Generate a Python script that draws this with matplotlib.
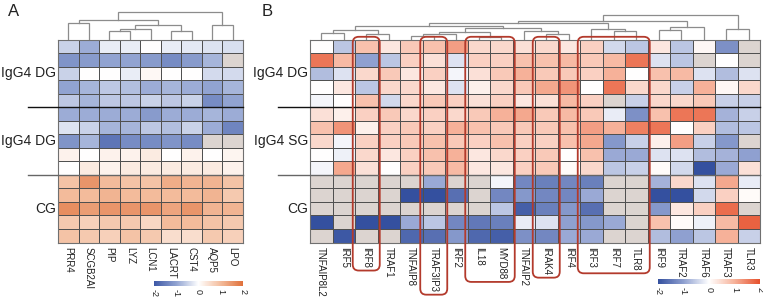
import numpy as np
import matplotlib
matplotlib.use("Agg")
import matplotlib.pyplot as plt
from matplotlib.colors import LinearSegmentedColormap, Normalize
from matplotlib.patches import FancyBboxPatch
from matplotlib.transforms import IdentityTransform
import matplotlib.cm as cm

plt.rcParams['font.family'] = ['Liberation Sans', 'DejaVu Sans']
plt.rcParams['axes.unicode_minus'] = False

NA = np.nan

# ---------------- Panel A data ----------------
genes_a = ["PRR4", "SCGB2AI", "PIP", "LYZ", "LCN1", "LACRT", "CST4", "AQP5", "LPO"]
groups_a = ["IgG4 DG", "IgG4 DG", "CG"]
a_dg1 = [
    [-0.5, -0.9, -0.2, -0.2, 0.0, -0.2, -0.25, -0.3, -0.35],
    [-1.2, -1.1, -1.0, -1.0, -1.1, -1.3, -1.1, -0.8, NA],
    [-0.5, 0.0, 0.0, -0.2, 0.1, 0.0, 0.0, -0.4, -0.4],
    [-1.0, -0.8, -0.6, -0.7, -0.9, -0.8, -0.9, -1.0, -0.8],
    [-0.6, -0.8, -0.6, -0.6, -0.5, -0.6, -0.5, -1.3, -1.0],
]
a_dg2 = [
    [-0.9, -0.9, -0.9, -0.9, -1.1, -0.9, -0.9, -0.8, -0.9],
    [-0.3, -0.5, -0.8, -0.8, -0.6, -0.7, -0.5, -0.9, -1.4],
    [-1.2, -0.8, -1.6, -1.3, -1.3, -1.2, -1.3, NA, NA],
    [0.2, 0.0, 0.2, 0.2, 0.3, 0.0, 0.2, 0.0, 0.15],
    [0.0, 0.3, 0.2, 0.3, 0.3, 0.3, 0.3, 0.3, 0.2],
]
a_cg = [
    [0.9, 1.5, 1.0, 0.9, 0.9, 1.2, 1.1, 1.1, 0.9],
    [1.0, 1.0, 1.1, 1.0, 1.0, 1.0, 1.0, 1.1, 0.8],
    [1.6, 1.4, 1.5, 1.5, 1.5, 1.3, 1.5, 1.1, 1.1],
    [0.8, 0.7, 0.8, 0.8, 0.6, 1.0, 1.0, 0.9, 0.8],
    [0.9, 0.8, 0.7, 0.9, 0.8, 0.5, 0.5, 0.8, 0.7],
]
# linkage: (left, right, height)  ids >= n refer to earlier merges
link_a = [
    (2, 3, 8.3), (9, 4, 10.7), (5, 6, 8.3), (10, 11, 15.0),
    (0, 1, 16.7), (13, 12, 20.0), (7, 8, 15.0), (14, 15, 27.3),
]

# ---------------- Panel B data ----------------
genes_b = ["TNFAIP8L2", "IRF5", "IRF8", "TRAF1", "TNFAIP8", "TRAF3IP3", "IRF2", "IL18",
           "MYD88", "TNFAIP2", "IRAK4", "IRF4", "IRF3", "IRF7", "TLR8", "IRF9", "TRAF2",
           "TRAF6", "TRAF3", "TLR3"]
groups_b = ["IgG4 DG", "IgG4 SG", "CG"]
b_dg = [
    [0.0, -0.6, 0.8, 0.3, 0.7, 0.8, 1.2, 0.5, 0.5, 0.4, 0.5, 0.3, 0.6, -0.4, -0.6, 0.3, -0.6, 0.1, -1.2, NA],
    [1.6, 0.9, -1.0, -0.6, 0.6, 0.4, -0.3, 0.6, 0.6, 0.8, 0.8, 0.9, 0.7, 0.9, 1.6, -0.3, -0.6, NA, 0.0, NA],
    [-0.7, -0.3, 0.5, 0.7, 0.3, 0.6, -0.1, 0.4, 0.7, 1.0, 0.7, 0.7, 0.6, 1.0, 0.0, 0.8, 0.9, -0.3, -0.7, -0.3],
    [0.0, 0.3, -0.6, 0.5, 0.5, 0.3, -0.3, 0.2, 0.5, 0.7, 1.1, 1.3, 0.0, 1.6, 0.5, 0.5, -0.5, 1.0, 0.1, 0.5],
    [-0.1, 0.0, 0.8, -0.4, 0.5, 0.7, 0.6, 0.4, 0.6, 0.3, 0.4, 0.9, 0.6, NA, -0.5, 0.5, 0.5, 0.7, -0.5, -0.5],
]
b_sg = [
    [0.4, 0.2, 0.6, 0.7, 0.5, 0.6, 0.5, 0.7, 1.0, 1.1, 0.7, 0.9, 0.7, -0.2, -1.2, 0.8, 1.6, 1.6, -0.8, -0.5],
    [0.8, 1.3, 0.2, 0.6, 0.7, 0.6, 1.0, 0.8, 0.7, 0.7, 0.7, 0.8, 1.2, 1.0, 1.5, 1.6, 0.0, 0.6, -0.7, -0.6],
    [0.5, -0.1, 0.6, 0.6, 0.7, 0.8, 0.7, 0.6, 0.8, 0.6, 0.6, 0.8, 1.1, -1.1, -0.5, 0.2, 1.2, -0.5, -1.1, NA],
    [0.0, -0.15, 0.5, 0.3, 0.6, 0.8, 1.0, 0.3, 0.5, 0.6, 0.7, 0.0, 0.8, -0.9, -0.9, -0.3, -0.3, -0.7, -0.8, -1.0],
    [-0.1, 1.1, 0.4, 0.0, 0.6, 0.7, 0.9, 0.3, 0.3, 0.6, 0.7, 0.05, 0.5, -0.6, -0.5, 0.05, -0.4, -2.0, -0.9, 0.4],
]
b_cg = [
    [NA, NA, NA, NA, NA, -0.9, NA, NA, -0.1, -1.3, -1.4, -1.3, -1.4, NA, NA, -0.8, 0.5, -0.3, 1.1, -0.2],
    [NA, NA, NA, NA, -2.0, -2.0, -1.6, NA, -1.3, -1.1, -1.3, -1.3, -0.9, NA, NA, -2.0, -2.0, -0.4, 0.6, 0.05],
    [NA, NA, NA, NA, NA, NA, NA, NA, -0.6, -1.8, -1.4, -1.1, -1.6, NA, NA, -1.1, 0.3, 0.6, 1.7, NA],
    [-2.0, NA, -2.0, -2.0, -0.9, -0.6, -1.3, -1.5, -1.4, -0.2, -0.3, -1.0, -1.1, -0.9, NA, 0.8, 0.05, -0.15, 0.9, 1.8],
    [NA, -1.9, NA, NA, -1.7, -1.6, -1.1, -1.7, -1.8, -1.2, -1.3, -0.9, -0.9, NA, NA, -0.7, -1.0, -0.6, 1.0, -0.5],
]
link_b = [
    (0, 1, 6.5), (2, 3, 6.0), (20, 21, 10.0), (4, 5, 3.5), (23, 6, 6.0),
    (7, 8, 3.0), (24, 25, 8.0), (10, 11, 6.0), (9, 27, 9.0), (26, 28, 12.0),
    (22, 29, 14.0), (13, 14, 8.6), (12, 31, 11.0), (30, 32, 16.5),
    (15, 16, 10.0), (34, 17, 13.0), (33, 35, 19.0), (18, 19, 11.0), (36, 37, 24.3),
]
boxes_b = [("IRF8", "IRF8"), ("TRAF3IP3", "TRAF3IP3"), ("IL18", "MYD88"),
           ("IRAK4", "IRAK4"), ("IRF3", "TLR8")]
cbar_ticks = [-2, -1, 0, 1, 2]

# ---------------- styling ----------------
W, H = 763, 298
fig = plt.figure(figsize=(W / 100, H / 100), dpi=100)

def ax_px(l, t, r, b):
    return fig.add_axes([l / W, 1 - b / H, (r - l) / W, (b - t) / H])

cmap_a = LinearSegmentedColormap.from_list(
    "a", ["#3d58a6", "#91a3d1", "#ffffff", "#f3bc9c", "#e0703a"])
cmap_b = LinearSegmentedColormap.from_list(
    "b", ["#34509f", "#8fa0d0", "#ffffff", "#f6b29a", "#e6502c"])
for c in (cmap_a, cmap_b):
    c.set_bad("#dcd4d0")

TXT = "#222222"


def draw_dendro(ax, link, n, color="#8c8c8c"):
    pos = {i: i + 0.5 for i in range(n)}
    hgt = {i: 0.0 for i in range(n)}
    for k, (l, r, h) in enumerate(link):
        xl, xr = pos[l], pos[r]
        ax.plot([xl, xl, xr, xr], [hgt[l], h, h, hgt[r]], color=color, lw=0.9,
                solid_joinstyle="miter")
        pos[n + k] = (xl + xr) / 2
        hgt[n + k] = h
    ax.set_xlim(0, n)
    ax.axis("off")


def draw_heat(ax, data, cmap, genes, groups, div_left):
    arr = np.ma.masked_invalid(np.array(data, dtype=float))
    nr, nc = arr.shape
    ax.pcolormesh(np.arange(nc + 1), np.arange(nr + 1), arr, cmap=cmap,
                  vmin=-2, vmax=2, edgecolors="#505050", linewidth=0.6)
    ax.set_xlim(0, nc)
    ax.set_ylim(nr, 0)
    for s in ax.spines.values():
        s.set_edgecolor("#707070")
        s.set_linewidth(0.8)
    ax.set_yticks([])
    ax.set_xticks(np.arange(nc) + 0.5)
    ax.set_xticklabels(genes, rotation=-90, fontsize=7, color=TXT)
    ax.tick_params(axis="x", length=0, pad=3)
    gsize = nr // len(groups)
    for gi, g in enumerate(groups):
        ax.text(-0.08, gi * gsize + gsize / 2, g, ha="right", va="center",
                fontsize=10, color=TXT)
    ax.plot([div_left, nc], [gsize, gsize], color="#111111", lw=1.0,
            clip_on=False, zorder=5)
    ax.plot([div_left, nc], [2 * gsize, 2 * gsize], color="#666666", lw=1.0,
            clip_on=False, zorder=5)


def draw_cbar(cax, cmap):
    sm = cm.ScalarMappable(norm=Normalize(-2, 2), cmap=cmap)
    cb = fig.colorbar(sm, cax=cax, orientation="horizontal", ticks=cbar_ticks)
    cb.outline.set_visible(False)
    cax.tick_params(axis="x", length=0, pad=2, labelsize=6.5, labelcolor=TXT,
                    labelrotation=-90)


# Panel A
ax_a = ax_px(58, 39.5, 243, 242.5)
data_a = a_dg1 + a_dg2 + a_cg
draw_heat(ax_a, data_a, cmap_a, genes_a, groups_a, div_left=-1.45)
dax_a = ax_px(58, 8, 243, 39.5)
draw_dendro(dax_a, link_a, len(genes_a))
dax_a.set_ylim(0, 31.5)
draw_cbar(ax_px(154, 281, 243, 286), cmap_a)

# Panel B
ax_b = ax_px(310, 39.5, 760, 242.5)
data_b = b_dg + b_sg + b_cg
draw_heat(ax_b, data_b, cmap_b, genes_b, groups_b, div_left=-1.42)
dax_b = ax_px(310, 12, 760, 39.5)
draw_dendro(dax_b, link_b, len(genes_b))
dax_b.set_ylim(0, 27.5)
draw_cbar(ax_px(658, 279, 760, 284), cmap_b)

fig.text(8 / W, 1 - 12 / H, "A", fontsize=12, color=TXT, va="center")
fig.text(262 / W, 1 - 12 / H, "B", fontsize=12, color=TXT, va="center")

# red rounded boxes around highlighted genes
fig.canvas.draw()
renderer = fig.canvas.get_renderer()
labels = {t.get_text(): t for t in ax_b.get_xticklabels()}
for g0, g1 in boxes_b:
    i0, i1 = genes_b.index(g0), genes_b.index(g1)
    x0, ytop = ax_b.transData.transform((i0 - 0.1, -0.2))
    x1, _ = ax_b.transData.transform((i1 + 1.1, 0))
    bottom = min(labels[g].get_window_extent(renderer).y0 for g in genes_b[i0:i1 + 1]) - 3
    patch = FancyBboxPatch((x0, bottom), x1 - x0, ytop - bottom,
                           boxstyle="round,pad=0,rounding_size=6",
                           transform=IdentityTransform(), fill=False,
                           edgecolor="#b33a2c", lw=1.3, zorder=10)
    fig.add_artist(patch)

fig.savefig("out.png", dpi=100)
